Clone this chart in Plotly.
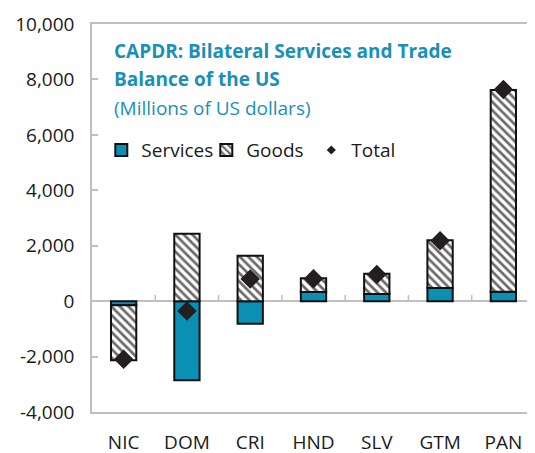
import plotly.graph_objects as go

# Data (millions of US dollars)
countries = ["NIC", "DOM", "CRI", "HND", "SLV", "GTM", "PAN"]
services = [-150, -2850, -820, 330, 260, 470, 340]
goods = [-1980, 2430, 1640, 500, 730, 1730, 7280]
total = [-2100, -360, 800, 810, 960, 2180, 7640]
y_ticks = [-4000, -2000, 0, 2000, 4000, 6000, 8000, 10000]
y_tick_text = [f"{v:,}" for v in y_ticks]

teal = "#0A8FB5"
title_teal = "#1990B8"
axis_gray = "#BFBFBF"
outline = "#111111"
font_family = "Open Sans, DejaVu Sans, sans-serif"

fig = go.Figure()

fig.add_trace(go.Bar(
    x=countries, y=services, name="Services",
    marker=dict(color=teal, line=dict(color=outline, width=2)),
    width=0.4,
))
fig.add_trace(go.Bar(
    x=countries, y=goods, name="Goods",
    marker=dict(
        color="white",
        line=dict(color=outline, width=2),
        pattern=dict(shape="\\", fgcolor="#6A6A6A", bgcolor="white", size=6, solidity=0.45),
    ),
    width=0.4,
))
fig.add_trace(go.Scatter(
    x=countries, y=total, name="Total", mode="markers", showlegend=False,
    marker=dict(symbol="diamond", size=15, color="#231F20"),
))
# legend entry only, with the small diamond used in the reference legend
fig.add_trace(go.Scatter(
    x=[None], y=[None], name="Total", mode="markers",
    marker=dict(symbol="diamond", size=7, color="#231F20"),
))

# small upward ticks on the zero line between categories
for i in range(len(countries) - 1):
    fig.add_shape(type="line", xref="x", yref="y", x0=i + 0.5, x1=i + 0.5, y0=0, y1=220,
                  line=dict(color=axis_gray, width=1.5), layer="above")

title_lines = ["<b>CAPDR: Bilateral Services and Trade</b>", "<b>Balance of the US</b>"]
for text, ypos in zip(title_lines, [0.931, 0.859]):
    fig.add_annotation(
        text=text, xref="paper", yref="paper", x=0.045, y=ypos,
        xanchor="left", yanchor="middle", showarrow=False,
        font=dict(size=19, color=title_teal, family=font_family),
    )
fig.add_annotation(
    text="(Millions of US dollars)",
    xref="paper", yref="paper", x=0.045, y=0.784, xanchor="left", yanchor="middle",
    showarrow=False, font=dict(size=19, color=title_teal, family=font_family),
)

fig.update_layout(
    template="none",
    width=535, height=453,
    # the page body adds an 8px offset, margins compensate for it
    margin=dict(l=84, r=8, t=16, b=49),
    barmode="relative",
    paper_bgcolor="white", plot_bgcolor="white",
    font=dict(family=font_family, size=19, color="#1A1A1A"),
    showlegend=True,
    legend=dict(orientation="h", x=0.021, y=0.675, xanchor="left", yanchor="middle",
                bgcolor="rgba(0,0,0,0)", font=dict(size=19), itemwidth=30,
                entrywidth=60, tracegroupgap=0),
    xaxis=dict(
        automargin=False,
        showline=True, linecolor=axis_gray, linewidth=1.5, mirror=True,
        ticks="", showgrid=False, ticklabelstandoff=12,
    ),
    yaxis=dict(
        automargin=False,
        range=[-4000, 10000], tickvals=y_ticks, ticktext=y_tick_text,
        showline=True, linecolor=axis_gray, linewidth=1.5,
        ticks="inside", ticklen=6, tickcolor=axis_gray, tickwidth=1.5,
        showgrid=False, zeroline=True, zerolinecolor=axis_gray, zerolinewidth=1.5,
        ticklabelstandoff=12,
    ),
)

fig.write_html("out.html")
